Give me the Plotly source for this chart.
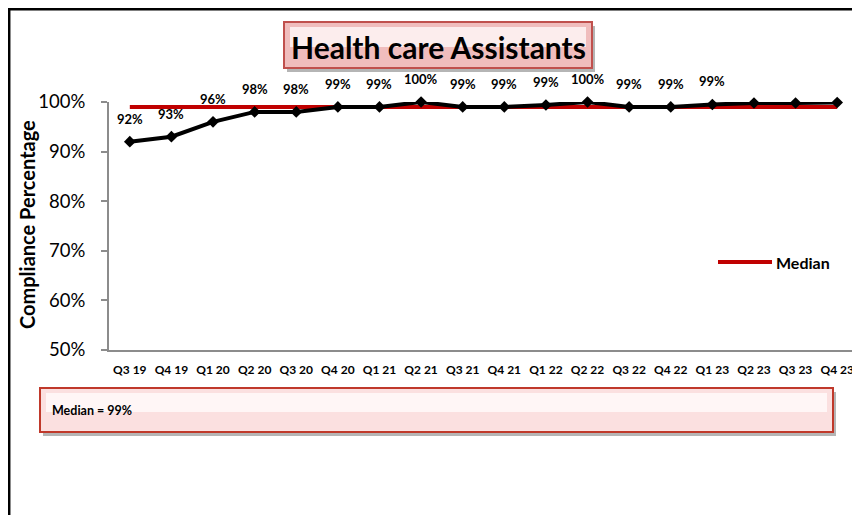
import plotly.graph_objects as go

# ---- data ----
quarters = ["Q3 19", "Q4 19", "Q1 20", "Q2 20", "Q3 20", "Q4 20", "Q1 21", "Q2 21", "Q3 21",
            "Q4 21", "Q1 22", "Q2 22", "Q3 22", "Q4 22", "Q1 23", "Q2 23", "Q3 23", "Q4 23"]
compliance = [0.92, 0.93, 0.96, 0.98, 0.98, 0.99, 0.99, 1.00, 0.99,
              0.99, 0.994, 1.00, 0.99, 0.99, 0.995, 0.998, 0.998, 0.999]
point_labels = ["92%", "93%", "96%", "98%", "98%", "99%", "99%", "100%", "99%",
                "99%", "99%", "100%", "99%", "99%", "99%", "", "", ""]
median_value = 0.99
median_series = [median_value] * len(quarters)
y_tickvals = [0.5, 0.6, 0.7, 0.8, 0.9, 1.0]
title_text = "Health care Assistants"
median_text = "Median = 99%"
y_title = "Compliance Percentage"

# page has an 8px body margin; figure is sized to fit the window
OFF = 8
W, H = 852, 507
ML, MR, MT, MB = 101, 2, 94, 165
PW, PH = W - ML - MR, H - MT - MB


def px(x):
    return (x - OFF - ML) / PW


def py(y):
    return (H - MB - (y - OFF)) / PH


FONT = "Lato"
fig = go.Figure()

fig.add_trace(go.Scatter(
    x=quarters, y=median_series, mode="lines", name="Median",
    line=dict(color="#C00000", width=4), showlegend=False, cliponaxis=False,
    hoverinfo="skip"))

fig.add_trace(go.Scatter(
    x=quarters, y=compliance, mode="lines+markers", name="Compliance",
    line=dict(color="#000000", width=4),
    marker=dict(symbol="diamond", size=9, color="#000000"),
    showlegend=False, cliponaxis=False))

annotations = []
for q, v, t in zip(quarters, compliance, point_labels):
    if t:
        annotations.append(dict(x=q, y=v, xref="x", yref="y", text=f"<b>{t}</b>",
                                showarrow=False, yshift=23,
                                font=dict(family=FONT, size=13, color="#000000")))

shapes = []
# outer frame (left and top)
shapes.append(dict(type="line", xref="paper", yref="paper", x0=px(9.2), x1=px(9.2), y0=py(8), y1=py(H + 20),
                   line=dict(color="#000000", width=2.5)))
shapes.append(dict(type="line", xref="paper", yref="paper", x0=px(8), x1=px(W + 20), y0=py(9.2), y1=py(9.2),
                   line=dict(color="#000000", width=2.5)))


def bevel_box(x0, y0, x1, y1, fill_top, fill_bottom, border):
    out = []
    out.append(dict(type="rect", xref="paper", yref="paper", x0=px(x0 + 3), x1=px(x1 + 3),
                    y0=py(y0 + 4), y1=py(y1 + 4), fillcolor="rgba(90,90,90,0.45)",
                    line=dict(width=0), layer="above"))
    out.append(dict(type="rect", xref="paper", yref="paper", x0=px(x0), x1=px(x1),
                    y0=py(y0), y1=py(y1), fillcolor=fill_bottom,
                    line=dict(color=border, width=2), layer="above"))
    out.append(dict(type="rect", xref="paper", yref="paper", x0=px(x0 + 6), x1=px(x1 - 6),
                    y0=py(y0 + 5), y1=py((y0 + y1) / 2 + 2), fillcolor=fill_top,
                    line=dict(width=0), layer="above"))
    return out


shapes += bevel_box(284, 22, 592, 68, "#FCEDED", "#F0BDBD", "#C0504D")
shapes += bevel_box(40, 388, 833, 432, "#FFF6F6", "#FBE0E0", "#C0392B")

# legend sample
shapes.append(dict(type="line", xref="paper", yref="paper", x0=px(718), x1=px(772), y0=py(262), y1=py(262),
                   line=dict(color="#C00000", width=4)))

annotations.append(dict(xref="paper", yref="paper", x=px(438), y=py(47), text=f"<b>{title_text}</b>",
                        showarrow=False, xanchor="center", yanchor="middle",
                        font=dict(family=FONT, size=30, color="#000000")))
annotations.append(dict(xref="paper", yref="paper", x=px(50), y=py(410), text=f"<b>{median_text}</b>",
                        showarrow=False, xanchor="left", yanchor="middle",
                        font=dict(family=FONT, size=12.5, color="#000000")))
annotations.append(dict(xref="paper", yref="paper", x=px(774), y=py(262), text="<b>Median</b>",
                        showarrow=False, xanchor="left", yanchor="middle",
                        font=dict(family=FONT, size=16, color="#000000")))
annotations.append(dict(xref="paper", yref="paper", x=px(27), y=py(225), text=f"<b>{y_title}</b>",
                        showarrow=False, xanchor="center", yanchor="middle", textangle=-90,
                        font=dict(family=FONT, size=20, color="#000000")))

fig.update_layout(
    width=W, height=H,
    margin=dict(l=ML, r=MR, t=MT, b=MB, autoexpand=False),
    paper_bgcolor="#FFFFFF", plot_bgcolor="#FFFFFF",
    showlegend=False,
    shapes=shapes, annotations=annotations,
    font=dict(family=FONT, color="#000000"),
)
fig.update_xaxes(type="category", range=[-0.5, len(quarters) - 0.5],
                 showline=True, linecolor="#8C8C8C", linewidth=2,
                 showgrid=False, ticks="", zeroline=False,
                 tickfont=dict(family=FONT, size=12, color="#000000"),
                 tickprefix="<b>", ticksuffix="</b>", tickangle=0, ticklabelstandoff=8)
fig.update_yaxes(range=[0.5, 1.0], tickvals=y_tickvals, tickformat=".0%",
                 showline=True, linecolor="#8C8C8C", linewidth=2,
                 ticks="outside", ticklen=6, tickcolor="#8C8C8C", tickwidth=1.5,
                 showgrid=False, zeroline=False,
                 tickfont=dict(family=FONT, size=18.5, color="#000000"),
                 tickprefix="<b>", ticksuffix="</b>", ticklabelstandoff=12)

fig.write_html("out.html")
